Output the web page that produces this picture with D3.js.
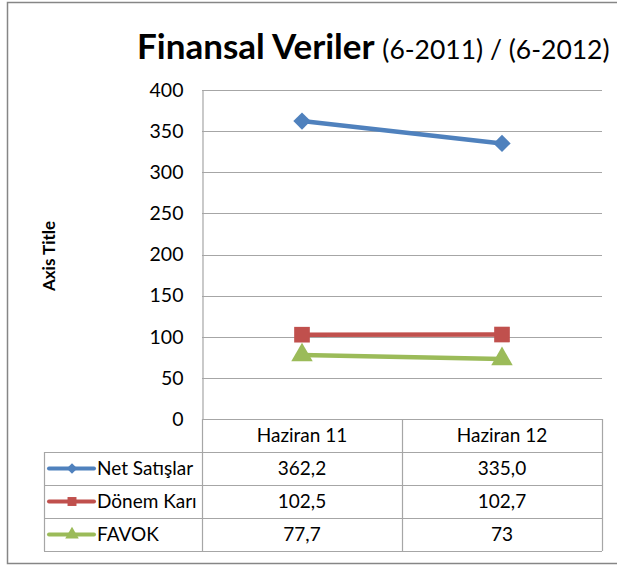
<!DOCTYPE html>
<html lang="tr">
<head>
<meta charset="utf-8">
<script src="https://d3js.org/d3.v7.min.js"></script>
<style>
  body { margin: 0; background: #fff; }
  svg text { font-family: Lato, "Open Sans", sans-serif; fill: #000; }
</style>
</head>
<body>
<script>
// chart data
const categories = ["Haziran 11", "Haziran 12"];
const seriesNames = ["Net Satışlar", "Dönem Karı", "FAVOK"];
const netSatislar = [362.2, 335.0];
const donemKari = [102.5, 102.7];
const favok = [77.7, 73];
const tableLabels = [["362,2", "335,0"], ["102,5", "102,7"], ["77,7", "73"]];
const yTicks = [0, 50, 100, 150, 200, 250, 300, 350, 400];

const colors = ["#4F81BD", "#C0504D", "#9BBB59"];
const seriesValues = [netSatislar, donemKari, favok];

const W = 617, H = 567;
const plotL = 202, plotR = 602, plotT = 90, plotB = 419;
const rowH = 33;
const fs = 19;

const svg = d3.select("body").append("svg")
    .attr("width", W).attr("height", H);

// outer frame
svg.append("rect")
    .attr("x", 7.5).attr("y", 2.5)
    .attr("width", 620).attr("height", 561)
    .attr("fill", "#fff").attr("stroke", "#868686").attr("stroke-width", 1.5);

// scales
const x = d3.scaleBand().domain(categories).range([plotL, plotR]);
const y = d3.scaleLinear().domain([0, 400]).range([plotB, plotT]);

// marker shapes (diamond = rotated square)
function marker(i, big) {
  if (i === 0) return { d: d3.symbol().type(d3.symbolSquare).size(big ? 150 : 55)(), rot: 45 };
  if (i === 1) return { d: d3.symbol().type(d3.symbolSquare).size(big ? 245 : 80)(), rot: 0 };
  return { d: d3.symbol().type(d3.symbolTriangle).size(big ? 200 : 80)(), rot: 0 };
}

// gridlines
svg.append("g").selectAll("line")
    .data(yTicks.filter(d => d > 0))
    .join("line")
    .attr("x1", plotL).attr("x2", plotR)
    .attr("y1", d => Math.round(y(d)) + 0.5).attr("y2", d => Math.round(y(d)) + 0.5)
    .attr("stroke", "#A6A6A6").attr("stroke-width", 1.2);

// y axis
const yAxis = d3.axisLeft(y).tickValues(yTicks).tickSize(0).tickPadding(19);
const gy = svg.append("g").attr("transform", `translate(${plotL + 0.5},0)`).call(yAxis);
gy.select(".domain").attr("stroke", "#A6A6A6").attr("stroke-width", 1.2);
gy.selectAll("text").attr("font-size", 19.5).attr("font-family", "Lato, sans-serif");

// axis title
svg.append("text")
    .attr("transform", "translate(55,256) rotate(-90)")
    .attr("text-anchor", "middle")
    .attr("font-size", 17).attr("font-weight", "bold")
    .text("Axis Title");

// title
const title = svg.append("text").attr("x", 137).attr("y", 59);
title.append("tspan").attr("font-size", 35).attr("font-weight", "bold").text("Finansal Veriler ");
title.append("tspan").attr("font-size", 26.5).text("(6-2011) / (6-2012)");

// data table
const tbl = svg.append("g").attr("stroke", "#A6A6A6").attr("stroke-width", 1.2);
tbl.append("line").attr("x1", plotL).attr("x2", plotR).attr("y1", plotB + 0.5).attr("y2", plotB + 0.5);
[1, 2, 3, 4].forEach(k => {
  const r = Math.round(plotB + k * rowH) + 0.5;
  tbl.append("line").attr("x1", 44).attr("x2", plotR).attr("y1", r).attr("y2", r);
});
[plotL, plotL + x.bandwidth(), plotR].forEach(cx => {
  tbl.append("line").attr("x1", cx + 0.5).attr("x2", cx + 0.5)
      .attr("y1", plotB).attr("y2", plotB + 4 * rowH);
});
tbl.append("line").attr("x1", 44.5).attr("x2", 44.5)
    .attr("y1", plotB + rowH).attr("y2", plotB + 4 * rowH);

// header
svg.append("g").selectAll("text")
    .data(categories).join("text")
    .attr("x", d => x(d) + x.bandwidth() / 2)
    .attr("y", plotB + rowH / 2 + 6.5)
    .attr("text-anchor", "middle").attr("font-size", fs)
    .text(d => d);

// rows
seriesNames.forEach((name, i) => {
  const cy = plotB + rowH * (i + 1) + rowH / 2;
  svg.append("line").attr("x1", 49).attr("x2", 94)
      .attr("y1", cy).attr("y2", cy)
      .attr("stroke", colors[i]).attr("stroke-width", 4).attr("stroke-linecap", "round");
  const m = marker(i, false);
  svg.append("path")
      .attr("d", m.d)
      .attr("transform", `translate(72,${cy}) rotate(${m.rot})`)
      .attr("fill", colors[i]);
  svg.append("text").attr("x", 97).attr("y", cy + 6.5)
      .attr("font-size", fs).text(name);
  categories.forEach((c, j) => {
    svg.append("text")
        .attr("x", x(c) + x.bandwidth() / 2).attr("y", cy + 6.5)
        .attr("text-anchor", "middle").attr("font-size", fs)
        .text(tableLabels[i][j]);
  });
});

// lines + markers
const line = d3.line()
    .x((d, i) => x(categories[i]) + x.bandwidth() / 2)
    .y(d => y(d));

seriesValues.forEach((vals, i) => {
  svg.append("path").datum(vals)
      .attr("d", line)
      .attr("fill", "none").attr("stroke", colors[i]).attr("stroke-width", 4.5);
  const m = marker(i, true);
  svg.append("g").selectAll("path")
      .data(vals).join("path")
      .attr("d", m.d)
      .attr("transform", (d, j) => `translate(${x(categories[j]) + x.bandwidth() / 2},${y(d)}) rotate(${m.rot})`)
      .attr("fill", colors[i]);
});
</script>
</body>
</html>
